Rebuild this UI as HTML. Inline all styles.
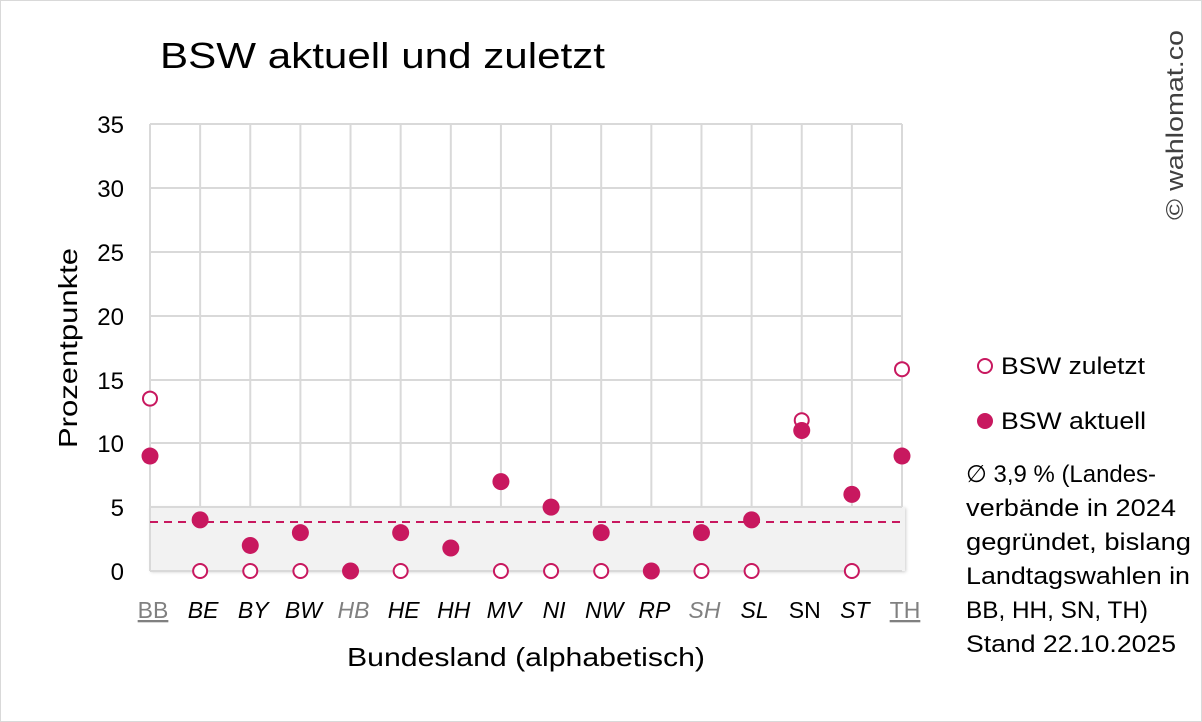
<!DOCTYPE html>
<html><head><meta charset="utf-8"><style>
html,body{margin:0;padding:0;background:#fff}
svg{display:block}
text{font-family:"Liberation Sans",sans-serif}
</style></head><body>
<svg width="1202" height="722" viewBox="0 0 1202 722" xmlns="http://www.w3.org/2000/svg">
<rect x="0.5" y="0.5" width="1201" height="721" fill="#fff" stroke="#d9d9d9"/>
<text x="160" y="68" font-size="36" fill="#000" textLength="445" lengthAdjust="spacingAndGlyphs">BSW aktuell und zuletzt</text>
<text transform="translate(1183,220) rotate(-90)" font-size="24" fill="#404040" textLength="190" lengthAdjust="spacingAndGlyphs">© wahlomat.co</text>
<defs><filter id="sh" x="-5%" y="-20%" width="110%" height="140%"><feDropShadow dx="1" dy="1" stdDeviation="1.5" flood-color="#000" flood-opacity="0.2"/></filter></defs>
<rect x="150" y="507" width="755" height="64" fill="#f2f2f2" filter="url(#sh)"/>
<g stroke="#d9d9d9" stroke-width="2">
<line x1="150" y1="124" x2="902" y2="124"/><line x1="150" y1="188" x2="902" y2="188"/>
<line x1="150" y1="252" x2="902" y2="252"/><line x1="150" y1="316" x2="902" y2="316"/>
<line x1="150" y1="380" x2="902" y2="380"/><line x1="150" y1="443" x2="902" y2="443"/>
<line x1="150" y1="507" x2="902" y2="507"/><line x1="150" y1="571" x2="902" y2="571"/>
</g>
<g stroke="#d9d9d9" stroke-width="2" id="vg"></g>
<line x1="150" y1="522" x2="902" y2="522" stroke="#c8185f" stroke-width="2" stroke-dasharray="8,6"/>
<g font-size="24" fill="#000" text-anchor="end">
<text x="124" y="133">35</text><text x="124" y="197">30</text><text x="124" y="261">25</text>
<text x="124" y="325">20</text><text x="124" y="389">15</text><text x="124" y="452">10</text>
<text x="124" y="516">5</text><text x="124" y="580">0</text>
</g>
<text transform="translate(77,348) rotate(-90)" font-size="26" text-anchor="middle" textLength="200" lengthAdjust="spacingAndGlyphs">Prozentpunkte</text>
<text x="526" y="666" font-size="26" text-anchor="middle" textLength="358" lengthAdjust="spacingAndGlyphs">Bundesland (alphabetisch)</text>
<g id="xl" font-size="23" text-anchor="middle"></g>
<g id="pts"></g>
<circle cx="985" cy="366" r="7" fill="#fff" stroke="#c8185f" stroke-width="2"/>
<text x="1001" y="374" font-size="24" textLength="144" lengthAdjust="spacingAndGlyphs">BSW zuletzt</text>
<circle cx="985" cy="421" r="8" fill="#c8185f"/>
<text x="1001" y="429" font-size="24" textLength="145" lengthAdjust="spacingAndGlyphs">BSW aktuell</text>
<g font-size="24" fill="#000" lengthAdjust="spacingAndGlyphs">
<text x="966" y="482" textLength="190" lengthAdjust="spacingAndGlyphs">∅ 3,9 % (Landes-</text>
<text x="966" y="516" textLength="210" lengthAdjust="spacingAndGlyphs">verbände in 2024</text>
<text x="966" y="550" textLength="225" lengthAdjust="spacingAndGlyphs">gegründet, bislang</text>
<text x="966" y="584" textLength="224" lengthAdjust="spacingAndGlyphs">Landtagswahlen in</text>
<text x="966" y="618" textLength="182" lengthAdjust="spacingAndGlyphs">BB, HH, SN, TH)</text>
<text x="966" y="652" textLength="210" lengthAdjust="spacingAndGlyphs">Stand 22.10.2025</text>
</g>
<script>
var ns="http://www.w3.org/2000/svg";
var labs=["BB","BE","BY","BW","HB","HE","HH","MV","NI","NW","RP","SH","SL","SN","ST","TH"];
var akt=[9,4,2,3,0,3,1.8,7,5,3,0,3,4,11,6,9];
var zul=[13.5,0,0,0,null,0,null,0,0,0,null,0,0,11.8,0,15.8];
function X(i){return 150+i*752/15}function Y(v){return 571-v*447/35}
var vg=document.getElementById("vg"),xl=document.getElementById("xl"),p=document.getElementById("pts");
function el(t,a,par){var e=document.createElementNS(ns,t);for(var k in a)e.setAttribute(k,a[k]);par.appendChild(e);return e;}
for(var i=0;i<16;i++){
 el("line",{x1:X(i),y1:124,x2:X(i),y2:i==0?571:507},vg);
 var gray=(labs[i]=="BB"||labs[i]=="HB"||labs[i]=="SH"||labs[i]=="TH");
 var ital=!(labs[i]=="BB"||labs[i]=="SN"||labs[i]=="TH");
 var t=el("text",{x:X(i)+3,y:618,fill:gray?"#808080":"#000","font-style":ital?"italic":"normal"},xl);
 t.textContent=labs[i];
 if(labs[i]=="BB"||labs[i]=="TH")t.setAttribute("text-decoration","underline");
}
for(var i=0;i<16;i++){
 if(zul[i]!==null)el("circle",{cx:X(i),cy:Y(zul[i]),r:7,fill:"#fff",stroke:"#c8185f","stroke-width":2},p);
 el("circle",{cx:X(i),cy:Y(akt[i]),r:8.5,fill:"#c8185f"},p);
}
</script>
</svg>
</body></html>
